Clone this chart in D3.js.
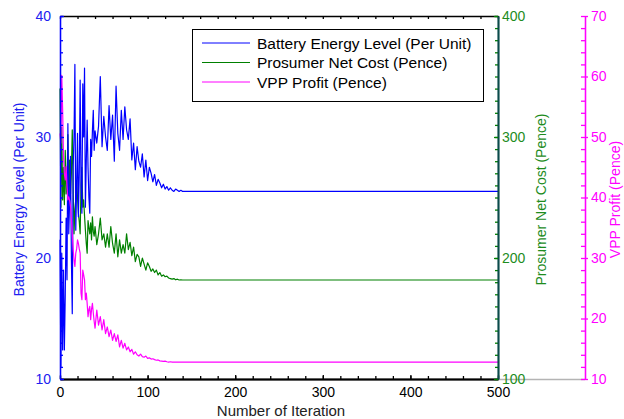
<!DOCTYPE html>
<html>
<head>
<meta charset="utf-8">
<script src="https://cdn.jsdelivr.net/npm/d3@7"></script>
<style>
  html, body { margin: 0; padding: 0; background: #ffffff; }
  svg { display: block; }
  text { font-family: "Liberation Sans", Arial, sans-serif; }
</style>
</head>
<body>
<svg id="chart" width="624" height="419"></svg>
<script>
// ---------------- DATA ----------------
const iterations = [
  0,1,2,3,4,5,6,7,8,9,10,11,12,13,14,15,16,17,18,19,20,
  21,22,23,24,25,26,27,28,29,30,31,32,33,34,35,36,37,38,39,40,
  42,44,46,48,50,52,54,56,58,60,62,64,66,68,70,72,74,76,78,80,
  82,84,86,88,90,92,94,96,98,100,102,104,106,108,110,112,114,116,118,120,
  122,124,126,128,130,132,134,136,138,140,500
];
const batteryLevel = [
  21.5,11.0,20.4,12.4,19.0,12.4,17.0,23.3,18.2,31.1,22.0,24.8,28.4,20.0,15.4,27.5,30.0,36.0,22.3,26.0,30.3,
  23.4,27.0,34.7,26.0,23.7,34.4,30.0,35.7,24.2,28.0,31.4,27.5,25.0,23.7,29.8,28.4,30.5,32.2,28.9,30.5,
  29.5,30.9,35.0,29.2,31.7,30.0,28.9,32.6,29.8,31.8,28.0,34.2,30.3,28.9,32.2,29.8,32.5,30.6,29.8,31.5,
  28.1,29.5,27.3,29.2,28.0,27.5,28.6,26.7,28.1,26.4,27.5,27.0,26.3,26.9,26.0,26.5,26.2,25.8,26.1,25.7,
  25.9,25.6,25.8,25.6,25.5,25.7,25.6,25.5,25.6,25.5,25.5
];
const netCost = [
  340,242,308,248,275,244,289,253,259,302,248,281,253,270,306,259,220,240,248,264,250,
  237,230,220,260,275,242,248,235,223,212,204,231,225,220,229,215,234,222,218,226,
  211,220,233,215,220,209,220,209,226,212,204,220,201,215,204,211,204,220,207,213,
  202,209,197,203,201,193,200,195,190,196,193,189,191,188,190,186,188,185,186,184.5,
  185,183.5,183,182.5,183,182,182.5,181.8,182,181.8,181.8
];
const vppProfit = [
  50.6,49.0,60.2,54.5,46.7,44.0,42.9,45.1,41.8,39.6,40.1,39.5,38.5,36.5,34.1,31.5,29.7,28.6,30.8,31.5,33.0,
  32.4,31.5,30.8,24.2,23.1,28.0,27.2,26.4,23.1,24.2,22.5,20.3,21.5,22.0,19.8,21.5,22.5,20.9,19.5,18.4,
  21.4,18.9,20.3,18.1,19.8,17.5,18.6,17.0,18.1,16.4,17.5,16.2,17.3,15.3,16.4,15.1,15.9,14.8,15.3,14.5,
  14.9,14.1,14.5,14.0,13.8,14.1,13.7,13.6,13.8,13.4,13.5,13.3,13.35,13.2,13.1,13.15,13.0,12.95,12.9,12.95,
  12.85,12.8,12.85,12.8,12.8,12.8,12.8,12.8,12.8,12.8,12.8
];
const xTicks = [0, 100, 200, 300, 400, 500];
const batteryTicks = [10, 20, 30, 40];
const costTicks = [100, 200, 300, 400];
const profitTicks = [10, 20, 30, 40, 50, 60, 70];
const seriesNames = ["Battery Energy Level (Per Unit)", "Prosumer Net Cost (Pence)", "VPP Profit (Pence)"];
const xTitle = "Number of Iteration";

// ---------------- LAYOUT ----------------
const L = 60, R = 498, T = 16, B = 379, P = 585;
const BLUE = "#0000ff", GREEN = "#008000", PINK = "#ff00ff";
const BLUE_TXT = "#2020f0", GREEN_TXT = "#1e8c1e", PINK_TXT = "#ff00ff";

const svg = d3.select("#chart");

const x = d3.scaleLinear().domain([0, 500]).range([L, R]);
const yB = d3.scaleLinear().domain([10, 40]).range([B, T]);
const yG = d3.scaleLinear().domain([100, 400]).range([B, T]);
const yP = d3.scaleLinear().domain([10, 70]).range([B, T]);

function styleAxis(g, lineColor, textColor, fontSize) {
  g.selectAll(".domain").attr("stroke", lineColor).attr("stroke-width", 1.3);
  g.selectAll(".tick line").attr("stroke", lineColor).attr("stroke-width", 1.3);
  g.selectAll(".tick text").attr("fill", textColor).style("font-size", fontSize + "px");
}

// gray base line for the VPP axis
svg.append("line").attr("x1", R).attr("x2", P).attr("y1", B + 0.5).attr("y2", B + 0.5)
  .attr("stroke", "#b4b4b4").attr("stroke-width", 1.3);

// ---------- series ----------
function drawSeries(vals, yScale, color) {
  const pts = iterations.map((it, i) => [it, vals[i]]);
  svg.append("path")
    .datum(pts)
    .attr("fill", "none")
    .attr("stroke", color)
    .attr("stroke-width", 1.2)
    .attr("stroke-linejoin", "round")
    .attr("d", d3.line().x(d => x(d[0])).y(d => yScale(d[1])));
}
drawSeries(netCost, yG, GREEN);
drawSeries(batteryLevel, yB, BLUE);
drawSeries(vppProfit, yP, PINK);

// ---------- top axis (ticks only) ----------
const gTop = svg.append("g").attr("transform", `translate(0,${T})`)
  .call(d3.axisTop(x).tickValues(d3.range(0, 501, 20)).tickFormat("").tickSizeInner(-3).tickSizeOuter(0));
styleAxis(gTop, "#000", "#000", 14);

// ---------- bottom axis ----------
const gBotMinor = svg.append("g").attr("transform", `translate(0,${B})`)
  .call(d3.axisBottom(x).tickValues(d3.range(0, 501, 20)).tickFormat("").tickSizeInner(-3).tickSizeOuter(0));
styleAxis(gBotMinor, "#000", "#000", 14);
const gBot = svg.append("g").attr("transform", `translate(0,${B})`)
  .call(d3.axisBottom(x).tickValues(xTicks).tickSizeInner(-4).tickSizeOuter(0).tickPadding(8));
styleAxis(gBot, "#000", "#000", 14);
gBot.selectAll(".domain").attr("stroke-width", 2);

svg.append("text")
  .attr("x", (L + R) / 2 + 2).attr("y", 416)
  .attr("text-anchor", "middle")
  .attr("fill", "#222")
  .style("font-size", "15px")
  .text(xTitle);

// ---------- left (battery) axis ----------
const gLMinor = svg.append("g").attr("transform", `translate(${L},0)`)
  .call(d3.axisLeft(yB).tickValues(d3.range(10, 41, 1)).tickFormat("").tickSizeInner(-3).tickSizeOuter(0));
styleAxis(gLMinor, BLUE, BLUE_TXT, 14);
const gL = svg.append("g").attr("transform", `translate(${L},0)`)
  .call(d3.axisLeft(yB).tickValues(batteryTicks).tickSizeInner(-4).tickSizeOuter(0).tickPadding(9));
styleAxis(gL, BLUE, BLUE_TXT, 14);

svg.append("text")
  .attr("transform", `translate(24,${(T + B) / 2 + 2}) rotate(-90)`)
  .attr("text-anchor", "middle")
  .attr("fill", BLUE_TXT)
  .style("font-size", "14px")
  .text(seriesNames[0]);

// ---------- right (cost) axis ----------
const gGMinor = svg.append("g").attr("transform", `translate(${R},0)`)
  .call(d3.axisRight(yG).tickValues(d3.range(100, 401, 10)).tickFormat("").tickSizeInner(-3).tickSizeOuter(0));
styleAxis(gGMinor, "#0b4b4b", GREEN_TXT, 14);
gGMinor.selectAll(".tick line").attr("stroke", GREEN);
const gG = svg.append("g").attr("transform", `translate(${R},0)`)
  .call(d3.axisRight(yG).tickValues(costTicks).tickSizeInner(-4).tickSizeOuter(0).tickPadding(4));
styleAxis(gG, "#0b4b4b", GREEN_TXT, 14);
gG.selectAll(".tick line").attr("stroke", GREEN);
gG.selectAll(".domain").attr("stroke-width", 2);

svg.append("text")
  .attr("transform", `translate(546,${(T + B) / 2 + 2}) rotate(-90)`)
  .attr("text-anchor", "middle")
  .attr("fill", GREEN_TXT)
  .style("font-size", "14px")
  .text(seriesNames[1]);

// ---------- far right (profit) axis ----------
const gPMinor = svg.append("g").attr("transform", `translate(${P},0)`)
  .call(d3.axisRight(yP).tickValues(d3.range(10, 71, 2)).tickFormat("").tickSizeInner(-4).tickSizeOuter(0));
styleAxis(gPMinor, PINK, PINK_TXT, 14);
const gP = svg.append("g").attr("transform", `translate(${P},0)`)
  .call(d3.axisRight(yP).tickValues(profitTicks).tickSizeInner(3).tickSizeOuter(0).tickPadding(3));
styleAxis(gP, PINK, PINK_TXT, 14);

svg.append("text")
  .attr("transform", `translate(620,${(T + B) / 2 + 2}) rotate(-90)`)
  .attr("text-anchor", "middle")
  .attr("fill", PINK_TXT)
  .style("font-size", "14px")
  .text(seriesNames[2]);

// ---------- legend ----------
const legend = svg.append("g");
legend.append("rect")
  .attr("x", 192.5).attr("y", 29.5).attr("width", 291).attr("height", 72)
  .attr("fill", "#fff").attr("stroke", "#000").attr("stroke-width", 1);
const legColors = [BLUE, GREEN, PINK];
const legY = [43, 62.5, 82];
seriesNames.forEach((name, i) => {
  legend.append("line")
    .attr("x1", 202).attr("x2", 250).attr("y1", legY[i]).attr("y2", legY[i])
    .attr("stroke", legColors[i]).attr("stroke-width", 1);
  legend.append("text")
    .attr("x", 257).attr("y", legY[i] + 5.5)
    .attr("fill", "#000")
    .style("font-size", "15.5px")
    .text(name);
});
</script>
</body>
</html>
